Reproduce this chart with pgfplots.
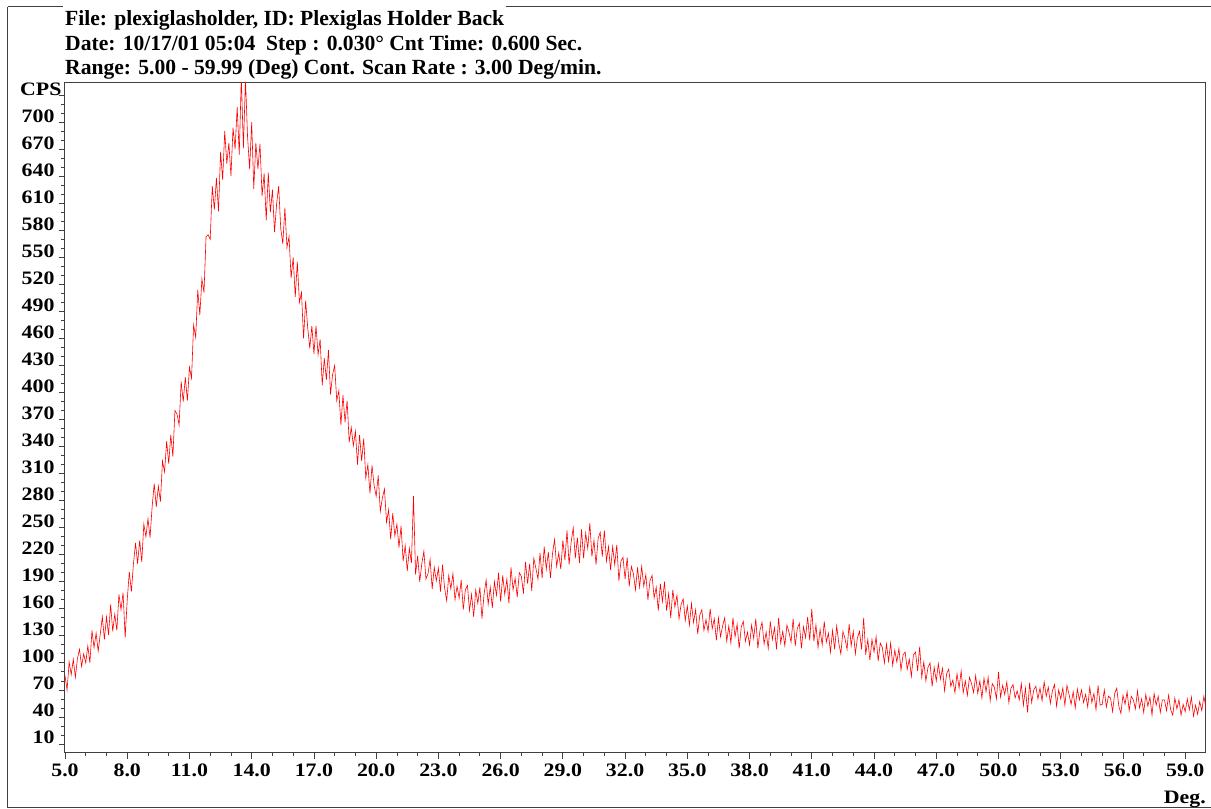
\documentclass[border=0pt]{standalone}
\usepackage{fontspec}
\setmainfont{Liberation Serif}
\newfontfamily\tickfont[FakeStretch=1.15]{Liberation Serif}
\usepackage{pgfplots}
\pgfplotsset{compat=1.18}
\pgfplotstableread[row sep=\\]{
x y\\
5.0 86\\ 5.1 70\\ 5.2 101\\ 5.3 87\\ 5.4 104\\ 5.5 84\\ 5.6 105\\ 5.7 115\\ 5.8 96\\ 5.9 110\\
6.0 100\\ 6.1 119\\ 6.2 100\\ 6.3 136\\ 6.4 117\\ 6.5 133\\ 6.6 113\\ 6.7 132\\ 6.8 151\\ 6.9 126\\
7.0 151\\ 7.1 131\\ 7.2 165\\ 7.3 135\\ 7.4 154\\ 7.5 136\\ 7.6 176\\ 7.7 159\\ 7.8 178\\ 7.9 128\\
8.0 170\\ 8.1 201\\ 8.2 179\\ 8.3 210\\ 8.4 233\\ 8.5 210\\ 8.6 236\\ 8.7 212\\ 8.8 254\\ 8.9 240\\
9.0 260\\ 9.1 239\\ 9.2 273\\ 9.3 299\\ 9.4 273\\ 9.5 296\\ 9.6 279\\ 9.7 324\\ 9.8 312\\ 9.9 346\\
10.0 321\\ 10.1 353\\ 10.2 329\\ 10.3 380\\ 10.4 376\\ 10.5 364\\ 10.6 412\\ 10.7 390\\ 10.8 417\\ 10.9 391\\
11.0 428\\ 11.1 416\\ 11.2 475\\ 11.3 461\\ 11.4 514\\ 11.5 486\\ 11.6 526\\ 11.7 511\\ 11.8 573\\ 11.9 575\\
12.0 570\\ 12.1 629\\ 12.2 603\\ 12.3 638\\ 12.4 601\\ 12.5 667\\ 12.6 636\\ 12.7 690\\ 12.8 654\\ 12.9 677\\
13.0 640\\ 13.1 694\\ 13.2 670\\ 13.3 717\\ 13.4 664\\ 13.5 750\\ 13.6 671\\ 13.7 748\\ 13.8 684\\ 13.9 648\\
14.0 700\\ 14.1 626\\ 14.2 677\\ 14.3 648\\ 14.4 676\\ 14.5 618\\ 14.6 643\\ 14.7 591\\ 14.8 644\\ 14.9 600\\
15.0 625\\ 15.1 578\\ 15.2 609\\ 15.3 629\\ 15.4 582\\ 15.5 565\\ 15.6 605\\ 15.7 561\\ 15.8 573\\ 15.9 527\\
16.0 550\\ 16.1 506\\ 16.2 545\\ 16.3 500\\ 16.4 511\\ 16.5 460\\ 16.6 502\\ 16.7 472\\ 16.8 449\\ 16.9 474\\
17.0 443\\ 17.1 474\\ 17.2 442\\ 17.3 459\\ 17.4 408\\ 17.5 438\\ 17.6 414\\ 17.7 447\\ 17.8 398\\ 17.9 420\\
18.0 430\\ 18.1 391\\ 18.2 402\\ 18.3 364\\ 18.4 397\\ 18.5 367\\ 18.6 391\\ 18.7 345\\ 18.8 361\\ 18.9 341\\
19.0 357\\ 19.1 320\\ 19.2 353\\ 19.3 324\\ 19.4 349\\ 19.5 305\\ 19.6 320\\ 19.7 288\\ 19.8 319\\ 19.9 297\\
20.0 285\\ 20.1 308\\ 20.2 268\\ 20.3 283\\ 20.4 293\\ 20.5 256\\ 20.6 270\\ 20.7 237\\ 20.8 266\\ 20.9 241\\
21.0 254\\ 21.1 228\\ 21.2 252\\ 21.3 213\\ 21.4 230\\ 21.5 202\\ 21.6 227\\ 21.7 211\\ 21.8 285\\ 21.9 198\\
22.0 219\\ 22.1 190\\ 22.2 210\\ 22.3 224\\ 22.4 193\\ 22.5 199\\ 22.6 215\\ 22.7 182\\ 22.8 206\\ 22.9 191\\
23.0 205\\ 23.1 179\\ 23.2 209\\ 23.3 183\\ 23.4 169\\ 23.5 197\\ 23.6 182\\ 23.7 199\\ 23.8 170\\ 23.9 185\\
24.0 172\\ 24.1 192\\ 24.2 159\\ 24.3 181\\ 24.4 186\\ 24.5 158\\ 24.6 176\\ 24.7 151\\ 24.8 181\\ 24.9 166\\
25.0 184\\ 25.1 149\\ 25.2 176\\ 25.3 192\\ 25.4 165\\ 25.5 184\\ 25.6 161\\ 25.7 190\\ 25.8 175\\ 25.9 200\\
26.0 168\\ 26.1 197\\ 26.2 176\\ 26.3 193\\ 26.4 166\\ 26.5 206\\ 26.6 181\\ 26.7 194\\ 26.8 173\\ 26.9 200\\
27.0 196\\ 27.1 177\\ 27.2 212\\ 27.3 188\\ 27.4 210\\ 27.5 180\\ 27.6 216\\ 27.7 205\\ 27.8 193\\ 27.9 222\\
28.0 194\\ 28.1 229\\ 28.2 204\\ 28.3 223\\ 28.4 194\\ 28.5 221\\ 28.6 237\\ 28.7 207\\ 28.8 222\\ 28.9 204\\
29.0 236\\ 29.1 214\\ 29.2 247\\ 29.3 209\\ 29.4 234\\ 29.5 250\\ 29.6 216\\ 29.7 239\\ 29.8 211\\ 29.9 248\\
30.0 216\\ 30.1 244\\ 30.2 227\\ 30.3 255\\ 30.4 218\\ 30.5 236\\ 30.6 209\\ 30.7 238\\ 30.8 245\\ 30.9 218\\
31.0 247\\ 31.1 213\\ 31.2 229\\ 31.3 203\\ 31.4 229\\ 31.5 209\\ 31.6 231\\ 31.7 191\\ 31.8 213\\ 31.9 217\\
32.0 193\\ 32.1 217\\ 32.2 185\\ 32.3 207\\ 32.4 199\\ 32.5 181\\ 32.6 206\\ 32.7 184\\ 32.8 207\\ 32.9 185\\
33.0 198\\ 33.1 170\\ 33.2 191\\ 33.3 197\\ 33.4 172\\ 33.5 184\\ 33.6 158\\ 33.7 188\\ 33.8 168\\ 33.9 190\\
34.0 158\\ 34.1 177\\ 34.2 150\\ 34.3 181\\ 34.4 162\\ 34.5 175\\ 34.6 149\\ 34.7 165\\ 34.8 171\\ 34.9 147\\
35.0 163\\ 35.1 142\\ 35.2 166\\ 35.3 145\\ 35.4 159\\ 35.5 132\\ 35.6 153\\ 35.7 159\\ 35.8 136\\ 35.9 148\\
36.0 135\\ 36.1 160\\ 36.2 138\\ 36.3 149\\ 36.4 125\\ 36.5 150\\ 36.6 129\\ 36.7 141\\ 36.8 150\\ 36.9 124\\
37.0 141\\ 37.1 122\\ 37.2 150\\ 37.3 129\\ 37.4 143\\ 37.5 116\\ 37.6 140\\ 37.7 146\\ 37.8 124\\ 37.9 134\\
38.0 120\\ 38.1 142\\ 38.2 127\\ 38.3 149\\ 38.4 116\\ 38.5 136\\ 38.6 145\\ 38.7 121\\ 38.8 134\\ 38.9 116\\
39.0 146\\ 39.1 126\\ 39.2 139\\ 39.3 115\\ 39.4 150\\ 39.5 122\\ 39.6 135\\ 39.7 119\\ 39.8 142\\ 39.9 134\\
40.0 123\\ 40.1 149\\ 40.2 119\\ 40.3 138\\ 40.4 144\\ 40.5 116\\ 40.6 140\\ 40.7 128\\ 40.8 151\\ 40.9 125\\
41.0 160\\ 41.1 124\\ 41.2 142\\ 41.3 117\\ 41.4 137\\ 41.5 120\\ 41.6 146\\ 41.7 123\\ 41.8 133\\ 41.9 112\\
42.0 136\\ 42.1 115\\ 42.2 141\\ 42.3 122\\ 42.4 110\\ 42.5 135\\ 42.6 127\\ 42.7 115\\ 42.8 143\\ 42.9 119\\
43.0 135\\ 43.1 110\\ 43.2 128\\ 43.3 135\\ 43.4 115\\ 43.5 150\\ 43.6 109\\ 43.7 126\\ 43.8 103\\ 43.9 126\\
44.0 112\\ 44.1 129\\ 44.2 102\\ 44.3 122\\ 44.4 117\\ 44.5 100\\ 44.6 121\\ 44.7 102\\ 44.8 122\\ 44.9 97\\
45.0 114\\ 45.1 101\\ 45.2 116\\ 45.3 92\\ 45.4 109\\ 45.5 112\\ 45.6 93\\ 45.7 104\\ 45.8 85\\ 45.9 109\\
46.0 112\\ 46.1 91\\ 46.2 118\\ 46.3 84\\ 46.4 101\\ 46.5 80\\ 46.6 95\\ 46.7 100\\ 46.8 74\\ 46.9 95\\
47.0 80\\ 47.1 99\\ 47.2 82\\ 47.3 94\\ 47.4 69\\ 47.5 88\\ 47.6 93\\ 47.7 74\\ 47.8 81\\ 47.9 67\\
48.0 88\\ 48.1 72\\ 48.2 91\\ 48.3 67\\ 48.4 80\\ 48.5 64\\ 48.6 84\\ 48.7 77\\ 48.8 67\\ 48.9 86\\
49.0 66\\ 49.1 80\\ 49.2 61\\ 49.3 83\\ 49.4 68\\ 49.5 84\\ 49.6 58\\ 49.7 77\\ 49.8 73\\ 49.9 60\\
50.0 90\\ 50.1 62\\ 50.2 75\\ 50.3 65\\ 50.4 79\\ 50.5 56\\ 50.6 72\\ 50.7 76\\ 50.8 61\\ 50.9 69\\
51.0 59\\ 51.1 77\\ 51.2 53\\ 51.3 72\\ 51.4 45\\ 51.5 78\\ 51.6 56\\ 51.7 70\\ 51.8 74\\ 51.9 60\\
52.0 72\\ 52.1 58\\ 52.2 79\\ 52.3 63\\ 52.4 73\\ 52.5 55\\ 52.6 69\\ 52.7 76\\ 52.8 52\\ 52.9 70\\
53.0 60\\ 53.1 72\\ 53.2 53\\ 53.3 75\\ 53.4 65\\ 53.5 54\\ 53.6 68\\ 53.7 50\\ 53.8 71\\ 53.9 59\\
54.0 70\\ 54.1 56\\ 54.2 65\\ 54.3 51\\ 54.4 73\\ 54.5 56\\ 54.6 66\\ 54.7 48\\ 54.8 75\\ 54.9 53\\
55.0 54\\ 55.1 70\\ 55.2 51\\ 55.3 63\\ 55.4 61\\ 55.5 46\\ 55.6 66\\ 55.7 72\\ 55.8 52\\ 55.9 44\\
56.0 64\\ 56.1 54\\ 56.2 68\\ 56.3 47\\ 56.4 63\\ 56.5 59\\ 56.6 49\\ 56.7 69\\ 56.8 50\\ 56.9 60\\
57.0 45\\ 57.1 65\\ 57.2 52\\ 57.3 62\\ 57.4 42\\ 57.5 66\\ 57.6 53\\ 57.7 63\\ 57.8 45\\ 57.9 59\\
58.0 59\\ 58.1 47\\ 58.2 64\\ 58.3 48\\ 58.4 42\\ 58.5 61\\ 58.6 49\\ 58.7 59\\ 58.8 42\\ 58.9 54\\
59.0 46\\ 59.1 60\\ 59.2 48\\ 59.3 62\\ 59.4 41\\ 59.5 53\\ 59.6 43\\ 59.7 57\\ 59.8 47\\ 59.9 63\\
60.0 50\\
}\xrd
\begin{document}
\begin{tikzpicture}[x=1pt,y=1pt]
\useasboundingbox (-65,-56) rectangle (1146,753);
\begin{axis}[
  at={(0pt,0pt)}, anchor=south west,
  scale only axis, width=1141pt, height=670.5pt,
  xmin=5, xmax=60, ymin=0, ymax=744,
  axis line style={black!75, line width=1pt},
  xtick={5,8,...,59},
  xticklabels={5.0,8.0,11.0,14.0,17.0,20.0,23.0,26.0,29.0,32.0,35.0,38.0,41.0,44.0,47.0,50.0,53.0,56.0,59.0},
  minor x tick num=2,
  ytick={10,40,...,730},
  yticklabels={10,40,70,100,130,160,190,220,250,280,310,340,370,400,430,460,490,520,550,580,610,640,670,700,CPS\hspace*{-7pt}},
  minor y tick num=2,
  tick pos=left, tick align=outside,
  major tick length=6pt, minor tick length=3.5pt,
  tick style={black!75, line width=0.8pt},
  tick label style={font=\tickfont\bfseries\fontsize{19}{19}\selectfont, text=black},
  yticklabel style={anchor=base east, xshift=-1pt},
  xticklabel style={anchor=north, yshift=-1pt},
  clip=true,
]
\addplot[red, line width=0.6pt, mark=none] table[x=x, y=y] {\xrd};
\end{axis}
% outer frame
\coordinate (tr) at (1150,746);
\draw[black!75, line width=1pt] (-57,746) -- (-57,-54) -- (1150,-54);
\draw[black!75, line width=1pt] (-57,746) -- (-2,746);
\node[anchor=base west, inner sep=0pt, font=\bfseries\fontsize{21.6}{21.6}\selectfont] (h1) at (0,727) {File: plexiglasholder, ID: Plexiglas Holder Back};
\draw[black!75, line width=1pt] ([xshift=2pt]h1.east |- tr) -- (tr);
\node[anchor=base west, inner sep=0pt, font=\bfseries\fontsize{21.6}{21.6}\selectfont] at (0,702) {Date: 10/17/01 05:04\ \ Step : 0.030° Cnt Time: 0.600 Sec.};
\node[anchor=base west, inner sep=0pt, font=\bfseries\fontsize{21.6}{21.6}\selectfont] at (0,678) {Range: 5.00 - 59.99 (Deg) Cont. Scan Rate : 3.00 Deg/min.};
\node[anchor=base east, inner sep=0pt, font=\tickfont\bfseries\fontsize{19}{19}\selectfont] at (1141,-51) {Deg.};
\end{tikzpicture}
\end{document}
